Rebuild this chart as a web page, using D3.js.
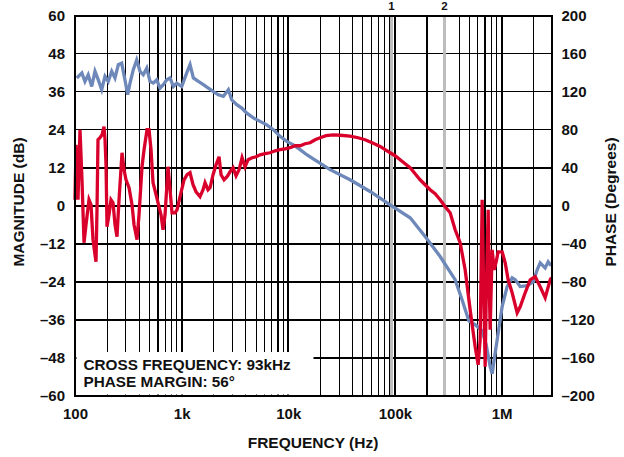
<!DOCTYPE html>
<html>
<head>
<meta charset="utf-8">
<script src="https://cdn.jsdelivr.net/npm/d3@7"></script>
<style>
  html, body { margin: 0; padding: 0; background: #fff; }
  svg text { font-family: "Liberation Sans", Arial, sans-serif; font-weight: bold; fill: #111; }
</style>
</head>
<body>
<svg id="chart" width="624" height="457"></svg>
<script>
// ---------- data ----------
const magTicks = [-60, -48, -36, -24, -12, 0, 12, 24, 36, 48, 60];
const phaseTicks = [-200, -160, -120, -80, -40, 0, 40, 80, 120, 160, 200];
const freqTicks = [100, 1e3, 1e4, 1e5, 1e6];
const freqTickLabels = ["100", "1k", "10k", "100k", "1M"];

// magnitude (dB), blue trace
const magFreq = [104, 116, 124, 133, 143.5, 154, 165.4, 178, 191, 205, 221, 237, 255, 274, 294, 312, 328, 352, 379, 407,
  437, 471, 505, 543, 584, 627, 673, 725, 779, 836, 899, 1002, 1116, 1199, 1288, 1435, 1598, 1780, 1984, 2210,
  2462, 2742, 2951, 3288, 3662, 4080, 4706, 5439, 6285, 7248, 8377, 9680, 11165, 12901, 14909, 16723, 24670, 37990, 58530, 90160,
  138900, 192000, 265500, 367000, 427000, 493500, 565300, 657700, 717100, 781900, 816400, 852400, 909400, 1013000, 1128000, 1257000, 1342000, 1495000, 1739000, 1979000,
  2158000, 2302000, 2564000, 2736000, 2920000];
const magDb = [40.3, 41.9, 39.2, 41.3, 37.6, 42.4, 39.7, 36.6, 40.8, 39.2, 42.4, 40.3, 44.5, 45.0, 39.7, 35.0, 38.7, 42.9, 46.0, 42.4,
  41.3, 43.4, 39.2, 38.7, 39.7, 37.1, 38.2, 39.7, 40.3, 37.6, 38.7, 37.6, 41.9, 44.5, 40.3, 39.2, 38.2, 37.1, 36.0, 35.0,
  34.5, 36.6, 33.4, 31.9, 30.8, 29.2, 27.7, 26.6, 25.5, 24.0, 21.9, 20.3, 19.2, 17.7, 16.1, 15.0, 11.4, 8.2, 4.5, 0.3,
  -3.8, -9.7, -16.0, -23.3, -29.7, -36.3, -37.5, -39.4, -43.8, -50.7, -53.0, -48.6, -42.3, -31.8, -25.5, -22.7, -23.3, -25.5, -25.2, -24.0,
  -20.2, -18.0, -19.6, -17.7, -18.9];

// phase (degrees), red trace
const phaseFreq = [100, 102.2, 106.7, 111.4, 116.3, 121.5, 126.8, 135.3, 141.3, 147.5, 154, 157.4, 160.8, 164.3, 171.6, 179.2, 187.1, 191.2, 195.4, 199.6,
  208.4, 217.6, 227.3, 237.3, 247.7, 258.7, 276, 288.3, 300.9, 321.1, 342.5, 357.7, 381.6, 398.4, 425.1, 444, 473.6, 494.5, 516.4, 539.2,
  575.3, 613.8, 640.9, 669.2, 698.8, 745.5, 778.4, 812.8, 867.2, 905.6, 966.1, 1053, 1124, 1199, 1279, 1365, 1488, 1588, 1658, 1769,
  1847, 1971, 2102, 2243, 2342, 2499, 2666, 2845, 3035, 3238, 3455, 3686, 3934, 4197, 4576, 4989, 5439, 6058, 6749, 7518,
  8377, 9333, 10397, 11580, 12900, 14375, 16010, 17840, 19880, 22620, 26320, 30610, 37990, 45160, 52540, 61130, 72650, 80940, 90160, 100400,
  111900, 124600, 138900, 154700, 172300, 192000, 213900, 238300, 265500, 295800, 329500, 367100, 408900, 455600, 507500, 565400, 603300, 629900, 657700, 672100,
  701800, 717100, 748700, 765100, 781900, 816400, 852400, 889900, 929200, 1013000, 1081000, 1153000, 1257000, 1401000, 1495000, 1665000, 1855000, 2067000, 2302000, 2565000,
  2858000, 2940000];
const phaseDeg = [6.3, 64.1, 6.3, 79.9, 27.3, -38.9, -20, 6.3, 1.1, -35.7, -51.5, -58.9, -4.2, 69.4, 71.5, 74.6, 83.1, 69.4, 43.1, -22.1,
  -9.5, 6.3, 3.2, -20, -32.6, 6.3, 55.7, 37.8, 27.3, 18.9, 1.1, -20, -35.7, -9.5, 41, 58.9, 79.9, 79.9, 58.9, 24.2,
  11.6, -1.1, -9.5, -25.2, -9.5, 41, 16.8, -7.4, -7.4, -4.2, 9.5, 27.3, 32.6, 34.7, 22.1, 14.7, 9.5, 16.8, 24.2, 16.8,
  18.9, 32.6, 43.1, 51.5, 32.6, 27.3, 30.5, 35.7, 40, 31.5, 37.8, 50.5, 41, 48.4, 50.5, 51.5, 53.6, 54.7, 55.7, 57.8,
  58.9, 59.9, 61, 63.1, 63.1, 65.2, 66.2, 69.4, 71.5, 73.6, 74.6, 74.1, 73.1, 71.5, 69.4, 66.2, 62.3, 58.9, 55.7, 52.6,
  48.4, 44.2, 40, 33.6, 27.3, 22.1, 16.8, 12.6, 6.3, -1.1, -7.4, -25.2, -38.9, -67.3, -109.3, -148.2, -167.2, -140.9, 6.3, -56.8,
  -169.3, -98.8, -4.2, -77.8, -130.4, -46.3, -67.3, -58.9, -48.4, -48.4, -59.9, -77.8, -91.5, -112.5, -106.2, -91.5, -77.8, -74.6, -85.2, -96.7,
  -77.8, -75.7];

// marker frequencies (1 = crossover, 2)
const markerFreq = [93000, 292000];
const markerLabels = ["1", "2"];
const noteLines = ["CROSS FREQUENCY: 93kHz", "PHASE MARGIN: 56\u00B0"];

// ---------- layout ----------
const svg = d3.select("#chart");
const L = 75, R = 551.5, T = 15.5, B = 396;
const x = d3.scaleLog().domain([100, 2.94e6]).range([L, R]);
const yMag = d3.scaleLinear().domain([-60, 60]).range([B, T]);
const yPh = d3.scaleLinear().domain([-200, 200]).range([B, T]);
const dash = v => (v < 0 ? "\u2013" + Math.abs(v) : String(v));

svg.append("rect").attr("width", 624).attr("height", 457).attr("fill", "#fff");

// grid
const minor = [];
[100, 1e3, 1e4, 1e5, 1e6].forEach(b => {
  for (let m = 1; m <= 9; m++) { const f = b * m; if (f < 2.94e6 && f > 100) minor.push(f); }
});
const grid = svg.append("g").attr("shape-rendering", "crispEdges");
grid.selectAll("line.v").data(minor).join("line")
  .attr("x1", d => x(d)).attr("x2", d => x(d)).attr("y1", T).attr("y2", B)
  .attr("stroke", "#000")
  .attr("stroke-width", d => (freqTicks.includes(d) ? 2 : 1.2));
grid.selectAll("line.h").data(magTicks.slice(1, -1)).join("line")
  .attr("x1", L).attr("x2", R).attr("y1", d => yMag(d)).attr("y2", d => yMag(d))
  .attr("stroke", "#000").attr("stroke-width", 1.6);

// marker lines
svg.append("g").attr("shape-rendering", "crispEdges").selectAll("line").data(markerFreq).join("line")
  .attr("x1", d => x(d)).attr("x2", d => x(d)).attr("y1", T).attr("y2", B)
  .attr("stroke", "#bdbdbd").attr("stroke-width", 3);
// redraw 100k decade line above marker 1
svg.append("line").attr("shape-rendering", "crispEdges")
  .attr("x1", x(1e5)).attr("x2", x(1e5)).attr("y1", T).attr("y2", B)
  .attr("stroke", "#000").attr("stroke-width", 2);

svg.append("g").selectAll("text").data(markerFreq).join("text")
  .attr("x", d => x(d)).attr("y", 10).attr("text-anchor", "middle")
  .style("font-size", "11.5px")
  .text((d, i) => markerLabels[i]);

// annotation box
svg.append("rect").attr("x", 76.5).attr("y", 352).attr("width", 237).attr("height", 42.5).attr("fill", "#fff");
svg.append("g").selectAll("text").data(noteLines).join("text")
  .attr("x", 83.5).attr("y", (d, i) => 370 + i * 16.6)
  .style("font-size", "15.3px")
  .text(d => d);

// traces
const magPts = magFreq.map((f, i) => [f, magDb[i]]);
const phPts = phaseFreq.map((f, i) => [f, phaseDeg[i]]);
svg.append("path").datum(magPts)
  .attr("fill", "none").attr("stroke", "#6d88b9").attr("stroke-width", 3.3).attr("stroke-linejoin", "miter")
  .attr("d", d3.line().x(d => x(d[0])).y(d => yMag(d[1])));
svg.append("path").datum(phPts)
  .attr("fill", "none").attr("stroke", "#d9002c").attr("stroke-width", 3.3).attr("stroke-linejoin", "miter")
  .attr("d", d3.line().x(d => x(d[0])).y(d => yPh(d[1])));

// frame
svg.append("rect").attr("shape-rendering", "crispEdges")
  .attr("x", L).attr("y", T).attr("width", R - L).attr("height", B - T)
  .attr("fill", "none").attr("stroke", "#000").attr("stroke-width", 2);

// axes
const left = svg.append("g").attr("transform", `translate(${L},0)`)
  .call(d3.axisLeft(yMag).tickValues(magTicks).tickSize(0).tickPadding(10).tickFormat(dash));
const right = svg.append("g").attr("transform", `translate(${R},0)`)
  .call(d3.axisRight(yPh).tickValues(phaseTicks).tickSize(0).tickPadding(10).tickFormat(dash));
const bottom = svg.append("g").attr("transform", `translate(0,${B})`)
  .call(d3.axisBottom(x).tickValues(freqTicks).tickSize(0).tickPadding(12).tickFormat((d, i) => freqTickLabels[i]));
[left, right, bottom].forEach(g => {
  g.select(".domain").remove();
  g.selectAll("text").style("font-size", "15px").style("font-family", "Liberation Sans, Arial, sans-serif")
    .style("font-weight", "bold").attr("fill", "#111");
});

// axis titles
svg.append("text").attr("transform", "translate(24,202) rotate(-90)")
  .attr("text-anchor", "middle").style("font-size", "15.5px").text("MAGNITUDE (dB)");
svg.append("text").attr("transform", "translate(616,202) rotate(-90)")
  .attr("text-anchor", "middle").style("font-size", "15.5px").text("PHASE (Degrees)");
svg.append("text").attr("x", 313).attr("y", 448)
  .attr("text-anchor", "middle").style("font-size", "15.5px").text("FREQUENCY (Hz)");
</script>
</body>
</html>
